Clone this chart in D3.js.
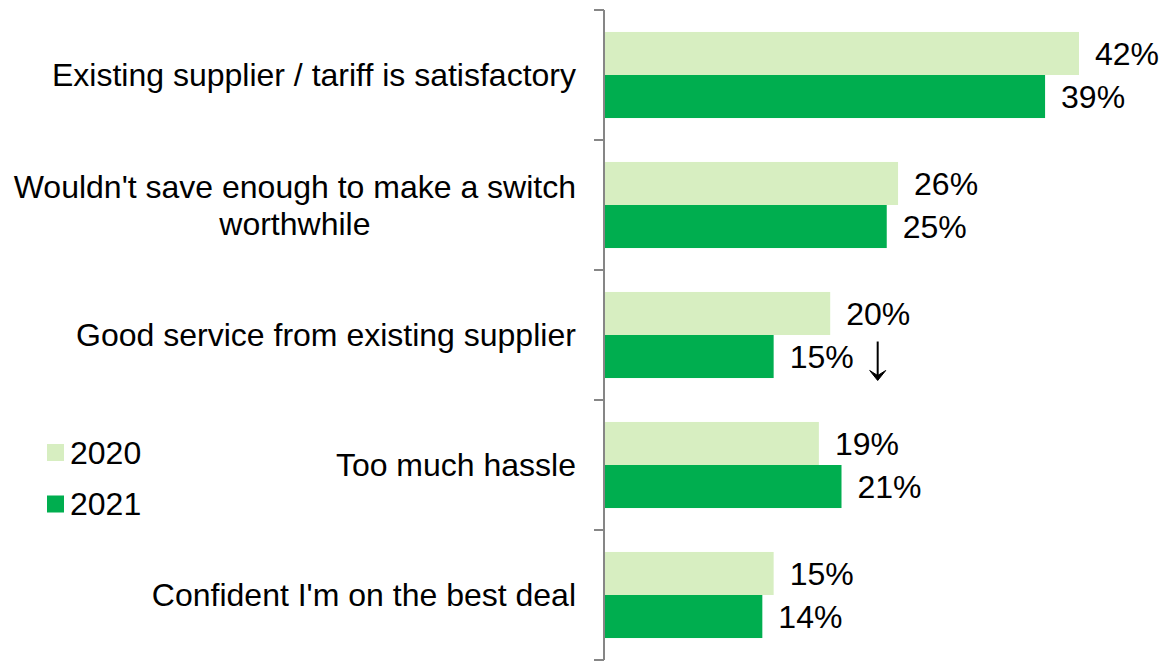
<!DOCTYPE html>
<html>
<head>
<meta charset="utf-8">
<script src="https://cdn.jsdelivr.net/npm/d3@7"></script>
<style>
  html, body { margin: 0; padding: 0; background: #fff; }
  svg { display: block; font-family: "Liberation Sans", Arial, sans-serif; }
</style>
</head>
<body>
<svg id="chart" width="1163" height="662"></svg>
<script>
// Reasons for not switching energy supplier, 2020 vs 2021
const categories = [
  ["Existing supplier / tariff is satisfactory"],
  ["Wouldn't save enough to make a switch", "worthwhile"],
  ["Good service from existing supplier"],
  ["Too much hassle"],
  ["Confident I'm on the best deal"]
];
const seriesNames = ["2020", "2021"];
const values2020 = [42, 26, 20, 19, 15];
const values2021 = [39, 25, 15, 21, 14];
// significant decreases flagged with an arrow after the 2021 value
const decline2021 = [false, false, true, false, false];

const colors = ["#d7eec1", "#00ae4f"];
const fontSize = 32;

const svg = d3.select("#chart");
const axisX = 604;
const labelRight = 576;

const keys = categories.map((c, i) => i);
const y = d3.scaleBand().domain(keys).range([10, 660])
  .paddingInner(0.338).paddingOuter(0.169);
const ySub = d3.scaleBand().domain(seriesNames).range([0, y.bandwidth()]);
const x = d3.scaleLinear().domain([0, 42]).range([axisX, 1079]);

const rows = keys.map(i => ({
  i,
  label: categories[i],
  vals: [values2020[i], values2021[i]],
  decline: decline2021[i]
}));

// bars
const g = svg.append("g");
rows.forEach(r => {
  seriesNames.forEach((s, k) => {
    const by = y(r.i) + ySub(s);
    const cy = by + ySub.bandwidth() / 2;
    g.append("rect")
      .attr("x", x(0))
      .attr("y", by)
      .attr("width", x(r.vals[k]) - x(0))
      .attr("height", ySub.bandwidth())
      .attr("fill", colors[k]);
    const t = g.append("text")
      .attr("x", x(r.vals[k]) + 16)
      .attr("y", cy)
      .attr("dy", "0.35em")
      .attr("font-size", fontSize)
      .attr("fill", "#000")
      .text(r.vals[k] + "%");
    if (k === 1 && r.decline) {
      // thin down arrow next to the value label
      const w = t.node().getComputedTextLength();
      const ax = x(r.vals[k]) + 16 + w + 24;
      const y0 = cy - 15, y1 = cy + 24;
      g.append("line")
        .attr("x1", ax).attr("x2", ax)
        .attr("y1", y0).attr("y2", y1 - 4)
        .attr("stroke", "#000").attr("stroke-width", 2);
      g.append("path")
        .attr("d", `M${ax - 8},${y1 - 10} L${ax},${y1} L${ax + 8},${y1 - 10} L${ax},${y1 - 5} Z`)
        .attr("fill", "#000")
        .attr("stroke", "#000").attr("stroke-width", 1)
        .attr("stroke-linejoin", "round");
    }
  });
});

// category axis: line with boundary ticks
const step = y.step();
const axisTop = y.range()[0];
const axisBottom = y.range()[1];
svg.append("line")
  .attr("x1", axisX).attr("x2", axisX)
  .attr("y1", axisTop).attr("y2", axisBottom)
  .attr("stroke", "#868686").attr("stroke-width", 2);
d3.range(keys.length + 1).forEach(j => {
  const ty = axisTop + j * step;
  svg.append("line")
    .attr("x1", axisX - 10).attr("x2", axisX)
    .attr("y1", ty).attr("y2", ty)
    .attr("stroke", "#868686").attr("stroke-width", 2);
});

// category labels: centred block, right-aligned to the axis
const lineH = 37;
rows.forEach(r => {
  const cy = y(r.i) + y.bandwidth() / 2;
  const t = svg.append("text")
    .attr("font-size", fontSize)
    .attr("fill", "#000")
    .attr("text-anchor", "middle");
  const n = r.label.length;
  r.label.forEach((line, li) => {
    t.append("tspan")
      .attr("x", 0)
      .attr("y", cy + (li - (n - 1) / 2) * lineH)
      .attr("dy", "0.35em")
      .text(line);
  });
  const w = t.node().getBBox().width;
  t.attr("transform", `translate(${labelRight - w / 2},0)`);
});

// legend
const legend = svg.append("g");
const legendY = [452.5, 504];
seriesNames.forEach((s, k) => {
  legend.append("rect")
    .attr("x", 47).attr("y", legendY[k] - 8.5)
    .attr("width", 17).attr("height", 17)
    .attr("fill", colors[k]);
  legend.append("text")
    .attr("x", 70).attr("y", legendY[k])
    .attr("dy", "0.35em")
    .attr("font-size", fontSize)
    .attr("fill", "#000")
    .text(s);
});
</script>
</body>
</html>
